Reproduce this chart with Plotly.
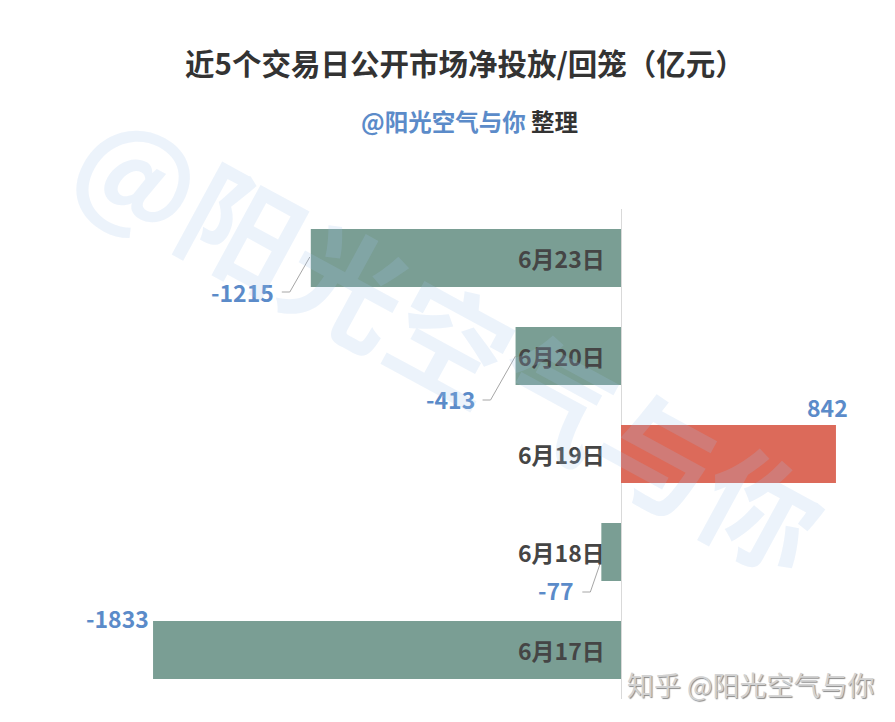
import plotly.graph_objects as go

# ---- data ----
dates = ["6月17日", "6月18日", "6月19日", "6月20日", "6月23日"]
values = [-1833, -77, 842, -413, -1215]
value_labels = ["-1833", "-77", "842", "-413", "-1215"]

title_text = "近5个交易日公开市场净投放/回笼（亿元）"
author = "@阳光空气与你"
watermark_text = "@阳光空气与你"
footer_text = "知乎 @阳光空气与你"

FONT = "Noto Sans CJK SC"
OFF = 8  # default page body margin
W, H = 895 - OFF, 722 - OFF
M_L, M_R, M_T, M_B = 0, 0, 209 - OFF, 22.5

NEG_COLOR = "#7a9e94"
POS_COLOR = "#dc6a5a"
VAL_COLOR = "#5b8bc9"
CAT_COLOR = "#454545"
LEADER = "#a6a6a6"

colors = [POS_COLOR if v > 0 else NEG_COLOR for v in values]

fig = go.Figure(go.Bar(
    x=values, y=dates, orientation="h",
    marker=dict(color=colors, line=dict(width=0)),
    width=0.59, hoverinfo="skip",
))


def px_to_paper(px, py):
    pw = W - M_L - M_R
    ph = H - M_T - M_B
    return (px - OFF - M_L) / pw, (H - M_B - (py - OFF)) / ph


annotations = []
shapes = []

# category labels near the zero line
for d in dates:
    annotations.append(dict(
        x=0, y=d, xref="x", yref="y", text="<b>%s</b>" % d, showarrow=False,
        xanchor="right", yanchor="middle", xshift=-14,
        font=dict(family=FONT, size=23, color=CAT_COLOR),
    ))

# value labels (pixel offsets of label & leader line relative to bar end)
label_pos = {
    "6月23日": dict(xs=-35, ys=-34, path="M -29,-34 L -21,-34 L -1,1"),
    "6月20日": dict(xs=-39, ys=-43, path="M -33,-44 L -25,-44 L 0,0"),
    "6月18日": dict(xs=-25, ys=-38, path="M -19,-40 L -11,-40 L -1,-11"),
    "6月17日": dict(xs=-2, ys=32, path=None),
}
for d, v, lab in zip(dates, values, value_labels):
    fnt = dict(family=FONT, size=23, color=VAL_COLOR)
    if v > 0:
        annotations.append(dict(
            x=v, y=d, xref="x", yref="y", text="<b>%s</b>" % lab, showarrow=False,
            xanchor="center", yanchor="middle", xshift=-8, yshift=47, font=fnt,
        ))
        continue
    p = label_pos[d]
    annotations.append(dict(
        x=v, y=d, xref="x", yref="y", text="<b>%s</b>" % lab, showarrow=False,
        xanchor="right", yanchor="middle", xshift=p["xs"], yshift=p["ys"], font=fnt,
    ))
    if p["path"]:
        shapes.append(dict(
            type="path", xref="x", yref="y", xsizemode="pixel", ysizemode="pixel",
            xanchor=v, yanchor=d, path=p["path"],
            line=dict(color=LEADER, width=1),
        ))

# title & subtitle
tx, ty = px_to_paper(465, 62)
annotations.append(dict(
    x=tx, y=ty, xref="paper", yref="paper", text="<b>%s</b>" % title_text,
    showarrow=False, xanchor="center", yanchor="middle",
    font=dict(family=FONT, size=29.5, color="#333333"),
))
sx, sy = px_to_paper(470, 121)
annotations.append(dict(
    x=sx, y=sy, xref="paper", yref="paper",
    text="<b><span style='color:%s'>%s</span> 整理</b>" % (VAL_COLOR, author),
    showarrow=False, xanchor="center", yanchor="middle",
    font=dict(family=FONT, size=23.5, color="#333333"),
))

# big diagonal watermark
wx, wy = px_to_paper(452, 337)
annotations.append(dict(
    x=wx, y=wy, xref="paper", yref="paper", text="<b>%s</b>" % watermark_text,
    showarrow=False, xanchor="center", yanchor="middle", textangle=28.5,
    font=dict(family=FONT, size=118, color="rgba(160,195,235,0.2)"),
))

# footer watermark
fx, fy = px_to_paper(751, 685)
annotations.append(dict(
    x=fx, y=fy, xref="paper", yref="paper", text=footer_text,
    showarrow=False, xanchor="center", yanchor="middle",
    font=dict(family=FONT, size=27, color="#d2d2d2",
              shadow="1px 1px 1px #8a8a8a"),
))

fig.update_layout(
    width=W, height=H,
    margin=dict(l=M_L, r=M_R, t=M_T, b=M_B),
    paper_bgcolor="white", plot_bgcolor="white",
    showlegend=False,
    annotations=annotations,
    shapes=shapes,
    xaxis=dict(range=[-613 / 0.2553, 274 / 0.2553], showgrid=False,
               showticklabels=False, zeroline=True, zerolinecolor="#d9d9d9",
               zerolinewidth=1, fixedrange=True),
    yaxis=dict(range=[-0.5, 4.5], categoryorder="array", categoryarray=dates,
               showgrid=False, showticklabels=False, zeroline=False,
               fixedrange=True),
)

fig.write_html("out.html")
